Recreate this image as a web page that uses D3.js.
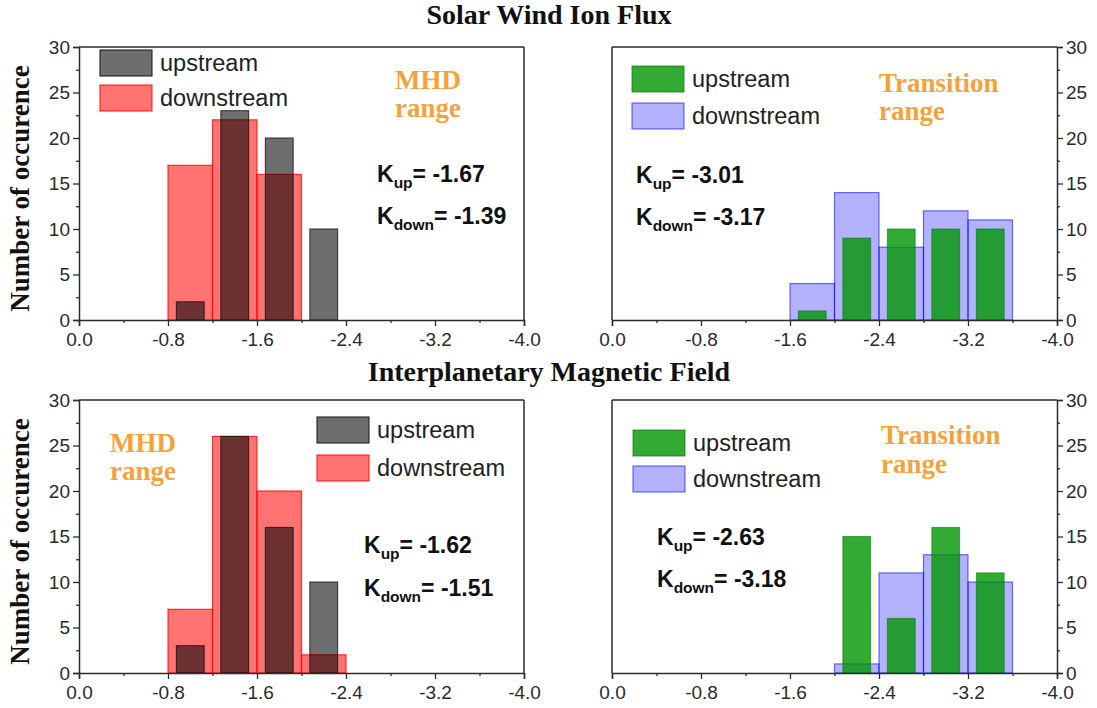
<!DOCTYPE html>
<html>
<head>
<meta charset="utf-8">
<script src="https://cdn.jsdelivr.net/npm/d3@7"></script>
<style>
  html, body { margin: 0; padding: 0; background: #fff; }
  svg { display: block; }
</style>
</head>
<body>
<svg id="chart" width="1097" height="708"></svg>
<script>
// ---- data: histogram counts of spectral index K ----
// Solar wind ion flux, MHD range
const swMhdUpCenters   = [-1.0, -1.4, -1.8, -2.2];
const swMhdUpCounts    = [2, 23, 20, 10];
const swMhdDownStarts  = [-0.8, -1.2, -1.6];
const swMhdDownCounts  = [17, 22, 16];
// Solar wind ion flux, transition range
const swTrUpCenters    = [-1.8, -2.2, -2.6, -3.0, -3.4];
const swTrUpCounts     = [1, 9, 10, 10, 10];
const swTrDownStarts   = [-1.6, -2.0, -2.4, -2.8, -3.2];
const swTrDownCounts   = [4, 14, 8, 12, 11];
// Interplanetary magnetic field, MHD range
const imfMhdUpCenters  = [-1.0, -1.4, -1.8, -2.2];
const imfMhdUpCounts   = [3, 26, 16, 10];
const imfMhdDownStarts = [-0.8, -1.2, -1.6, -2.0];
const imfMhdDownCounts = [7, 26, 20, 2];
// Interplanetary magnetic field, transition range
const imfTrUpCenters   = [-2.2, -2.6, -3.0, -3.4];
const imfTrUpCounts    = [15, 6, 16, 11];
const imfTrDownStarts  = [-2.0, -2.4, -2.8, -3.2];
const imfTrDownCounts  = [1, 11, 13, 10];

// mean indices per panel
const kUp   = ["-1.67", "-3.01", "-1.62", "-2.63"];
const kDown = ["-1.39", "-3.17", "-1.51", "-3.18"];

// axis ticks
const xTickValues = [0, -0.8, -1.6, -2.4, -3.2, -4.0];
const xTickLabels = ["0.0", "-0.8", "-1.6", "-2.4", "-3.2", "-4.0"];
const xMinorTicks = [-0.4, -1.2, -2.0, -2.8, -3.6];
const yTickValues = [0, 5, 10, 15, 20, 25, 30];
const yMinorTicks = [2.5, 7.5, 12.5, 17.5, 22.5, 27.5];

const rowTitles = ["Solar Wind Ion Flux", "Interplanetary Magnetic Field"];
const yAxisTitle = "Number of occurence";

const BIN = 0.4;      // downstream bin width
const UPW = 0.25;     // upstream bar width

// ---- styles ----
const styles = {
  gray:  { fill: "rgba(0,0,0,0.57)",     stroke: "rgba(20,20,20,0.85)" },
  red:   { fill: "rgba(255,0,0,0.55)",   stroke: "rgba(255,0,0,0.75)" },
  green: { fill: "rgba(0,150,0,0.80)",   stroke: "rgba(0,120,0,0.6)" },
  blue:  { fill: "rgba(0,0,255,0.30)",   stroke: "rgba(0,0,255,0.55)" }
};

const W = 445, H = 273;
const panels = [
  { x0: 79,  y0: 47,  side: "left",
    up:   { c: swMhdUpCenters,  v: swMhdUpCounts,  s: styles.gray },
    down: { c: swMhdDownStarts, v: swMhdDownCounts, s: styles.red },
    legend: [100, 50, 35], range: ["MHD", 395, 89, 117], k: [377, 182, 224], ki: 0 },
  { x0: 612, y0: 47,  side: "right",
    up:   { c: swTrUpCenters,  v: swTrUpCounts,  s: styles.green },
    down: { c: swTrDownStarts, v: swTrDownCounts, s: styles.blue },
    legend: [632, 66, 37], range: ["Transition", 879, 92, 120], k: [636, 183, 225], ki: 1 },
  { x0: 79,  y0: 400, side: "left",
    up:   { c: imfMhdUpCenters,  v: imfMhdUpCounts,  s: styles.gray },
    down: { c: imfMhdDownStarts, v: imfMhdDownCounts, s: styles.red },
    legend: [317, 417, 38], range: ["MHD", 110, 452, 480], k: [364, 553, 596], ki: 2 },
  { x0: 612, y0: 400, side: "right",
    up:   { c: imfTrUpCenters,  v: imfTrUpCounts,  s: styles.green },
    down: { c: imfTrDownStarts, v: imfTrDownCounts, s: styles.blue },
    legend: [633, 430, 36], range: ["Transition", 881, 444, 473], k: [657, 545, 587], ki: 3 }
];

const svg = d3.select("#chart");
const SANS = "'Liberation Sans', Arial, Helvetica, sans-serif";
const SERIF = "'Liberation Serif', 'Times New Roman', Times, serif";
const AX = "#2b2b2b";

// row titles
svg.append("text").attr("x", 549).attr("y", 24).attr("text-anchor", "middle")
  .style("font-family", SERIF).style("font-weight", "bold").style("font-size", "28px")
  .attr("fill", "#111").text(rowTitles[0]);
svg.append("text").attr("x", 549).attr("y", 381).attr("text-anchor", "middle")
  .style("font-family", SERIF).style("font-weight", "bold").style("font-size", "28px")
  .attr("fill", "#111").text(rowTitles[1]);

panels.forEach(p => {
  const g = svg.append("g").attr("transform", `translate(${p.x0},${p.y0})`);
  const x = d3.scaleLinear().domain([0, -4]).range([0, W]);
  const y = d3.scaleLinear().domain([0, 30]).range([H, 0]);

  // downstream bars (full bin width)
  g.append("g").selectAll("rect").data(p.down.c.map((c, i) => ({ s: c, v: p.down.v[i] })))
    .join("rect")
    .attr("x", d => x(d.s)).attr("width", d => x(d.s - BIN) - x(d.s))
    .attr("y", d => y(d.v)).attr("height", d => y(0) - y(d.v))
    .attr("fill", p.down.s.fill).attr("stroke", p.down.s.stroke).attr("stroke-width", 1.2);

  // upstream bars (narrower, centred in bin)
  g.append("g").selectAll("rect").data(p.up.c.map((c, i) => ({ c: c, v: p.up.v[i] })))
    .join("rect")
    .attr("x", d => x(d.c + UPW / 2)).attr("width", d => x(d.c - UPW / 2) - x(d.c + UPW / 2))
    .attr("y", d => y(d.v)).attr("height", d => y(0) - y(d.v))
    .attr("fill", p.up.s.fill).attr("stroke", p.up.s.stroke).attr("stroke-width", 1);

  // frame
  g.append("line").attr("x1", 0).attr("x2", W).attr("y1", 0).attr("y2", 0)
    .attr("stroke", AX).attr("stroke-width", 1.5);
  const oppX = p.side === "left" ? W : 0;
  g.append("line").attr("x1", oppX).attr("x2", oppX).attr("y1", 0).attr("y2", H)
    .attr("stroke", AX).attr("stroke-width", 1.5);

  // x axis
  const xa = g.append("g").attr("transform", `translate(0,${H})`)
    .call(d3.axisBottom(x).tickValues(xTickValues).tickSize(6).tickPadding(7)
      .tickFormat((d, i) => xTickLabels[i]));
  g.append("g").attr("transform", `translate(0,${H})`)
    .call(d3.axisBottom(x).tickValues(xMinorTicks).tickSize(3).tickFormat(""))
    .select(".domain").remove();

  // y axis
  const axisY = p.side === "left" ? d3.axisLeft : d3.axisRight;
  const ya = g.append("g").attr("transform", `translate(${p.side === "left" ? 0 : W},0)`)
    .call(axisY(y).tickValues(yTickValues).tickSize(6).tickPadding(3));
  g.append("g").attr("transform", `translate(${p.side === "left" ? 0 : W},0)`)
    .call(axisY(y).tickValues(yMinorTicks).tickSize(3).tickFormat(""))
    .select(".domain").remove();

  g.selectAll(".domain").attr("stroke", AX).attr("stroke-width", 1.5);
  g.selectAll(".tick line").attr("stroke", AX).attr("stroke-width", 1.3);
  [xa, ya].forEach(a => a.selectAll("text")
    .style("font-family", SANS).style("font-size", "19px").attr("fill", "#2a2a2a"));

  // legend
  const [lx, ly, lstep] = p.legend;
  [[p.up.s, "upstream"], [p.down.s, "downstream"]].forEach(([s, label], i) => {
    const yy = ly + i * lstep;
    svg.append("rect").attr("x", lx).attr("y", yy).attr("width", 52).attr("height", 26)
      .attr("fill", s.fill).attr("stroke", s.stroke).attr("stroke-width", 1.2);
    svg.append("text").attr("x", lx + 60).attr("y", yy + 21)
      .style("font-family", SANS).style("font-size", "23.5px").attr("fill", "#222").text(label);
  });

  // range annotation
  const [rt, rx, ry1, ry2] = p.range;
  [[rt, ry1], ["range", ry2]].forEach(([t, yy]) => {
    svg.append("text").attr("x", rx).attr("y", yy)
      .style("font-family", SERIF).style("font-weight", "bold").style("font-size", "27px")
      .attr("fill", "#f5a23a").text(t);
  });

  // K values
  const [kx, ky1, ky2] = p.k;
  [["up", kUp[p.ki], ky1], ["down", kDown[p.ki], ky2]].forEach(([sub, val, yy]) => {
    const t = svg.append("text").attr("x", kx).attr("y", yy)
      .style("font-family", SANS).style("font-weight", "bold").style("font-size", "23px")
      .attr("fill", "#111");
    t.append("tspan").text("K");
    t.append("tspan").attr("dy", 6).style("font-size", "15.5px").text(sub);
    t.append("tspan").attr("dy", -6).text("= " + val);
  });

  // y axis title on left panels
  if (p.side === "left") {
    svg.append("text")
      .attr("transform", `translate(29,${p.y0 + H / 2 + 5}) rotate(-90)`)
      .attr("text-anchor", "middle")
      .style("font-family", SERIF).style("font-weight", "bold").style("font-size", "27px")
      .attr("fill", "#111").text(yAxisTitle);
  }
});
</script>
</body>
</html>
